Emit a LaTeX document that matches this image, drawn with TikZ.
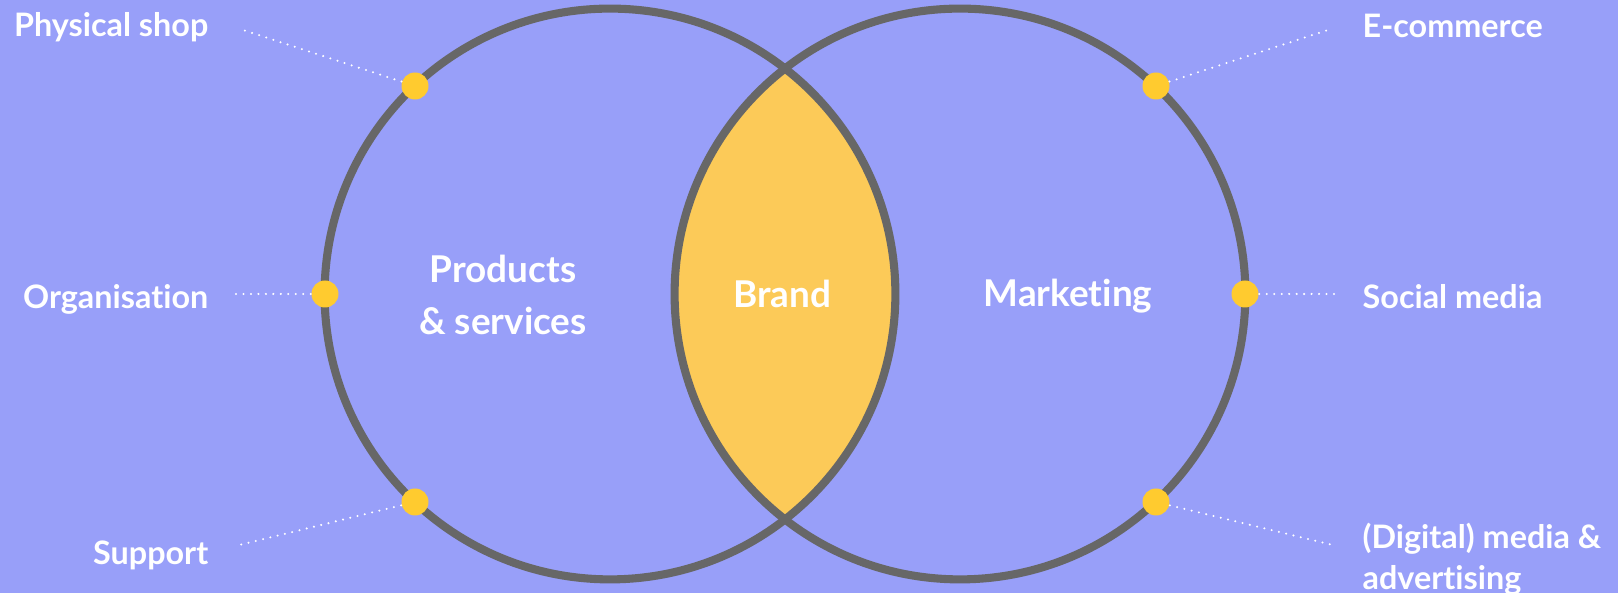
\documentclass[tikz,border=0pt]{standalone}
\usepackage{fontspec}
\setmainfont{Lato}[Ligatures=NoCommon]
\usepackage{tikz}

\definecolor{bgblue}{HTML}{989FF9}
\definecolor{ringgray}{HTML}{676767}
\definecolor{lensyellow}{HTML}{FCCA58}
\definecolor{dotyellow}{HTML}{FFCB2F}

\tikzset{
    ring/.style={draw=ringgray, line width=2.3pt},
    spot/.style={circle, fill=dotyellow, inner sep=0pt, minimum size=0.27cm},
    dotline/.style={white, line width=0.65pt, line cap=round, dash pattern=on 0pt off 2.13pt},
    sidelabel/.style={text=white, font=\fontsize{9.2}{11.7}\selectfont\bfseries, inner sep=0pt},
    mainlabel/.style={text=white, font=\fontsize{10.5}{14.5}\selectfont\bfseries, inner sep=0pt, align=center}
}

\begin{document}
\begin{tikzpicture}
    \fill[bgblue] (0,0) rectangle (16.18,-5.93);
    \useasboundingbox (0,0) rectangle (16.18,-5.93);

    % overlap of the two circles
    \begin{scope}
        \clip (6.10,-2.94) circle (2.854);
        \fill[lensyellow] (9.60,-2.94) circle (2.854);
    \end{scope}
    \draw[ring] (6.10,-2.94) circle (2.854);
    \draw[ring] (9.60,-2.94) circle (2.854);

    % line ends
    \coordinate (psend) at (2.40,-0.29);
    \coordinate (orgend) at (2.32,-2.94);
    \coordinate (supend) at (2.35,-5.46);
    \coordinate (ecend) at (13.31,-0.29);
    \coordinate (smend) at (13.37,-2.94);
    \coordinate (dmend) at (13.37,-5.46);

    % points on the circles
    \node[spot] (ps) at (4.15,-0.86) {};
    \node[spot] (org) at (3.25,-2.94) {};
    \node[spot] (sup) at (4.15,-5.02) {};
    \node[spot] (ec) at (11.56,-0.86) {};
    \node[spot] (sm) at (12.45,-2.94) {};
    \node[spot] (dm) at (11.56,-5.02) {};

    \draw[dotline] (ps) -- (psend);
    \draw[dotline] (org) -- (orgend);
    \draw[dotline] (sup) -- (supend);
    \draw[dotline] (ec) -- (ecend);
    \draw[dotline] (sm) -- (smend);
    \draw[dotline] (dm) -- (dmend);

    % labels
    \node[sidelabel, anchor=base east] (pslabel) at (2.09,-0.37) {Physical shop};
    \node[sidelabel, anchor=base east] (orglabel) at (2.09,-3.09) {Organisation};
    \node[sidelabel, anchor=base east] (suplabel) at (2.09,-5.65) {Support};
    \node[sidelabel, anchor=base west] (eclabel) at (13.62,-0.38) {E-commerce};
    \node[sidelabel, anchor=base west] (smlabel) at (13.62,-3.09) {Social media};
    \node[sidelabel, anchor=base west] (dmlabel) at (13.62,-5.49) {(Digital) media \&};
    \node[sidelabel, anchor=base west] (dmlabel2) at (13.62,-5.90) {advertising};

    \node[mainlabel, anchor=base] (prod) at (5.03,-2.83) {Products};
    \node[mainlabel, anchor=base] (serv) at (5.03,-3.35) {\& services};
    \node[mainlabel, anchor=base] (brand) at (7.82,-3.08) {Brand};
    \node[mainlabel, anchor=base] (mkt) at (10.68,-3.07) {Marketing};
\end{tikzpicture}
\end{document}
